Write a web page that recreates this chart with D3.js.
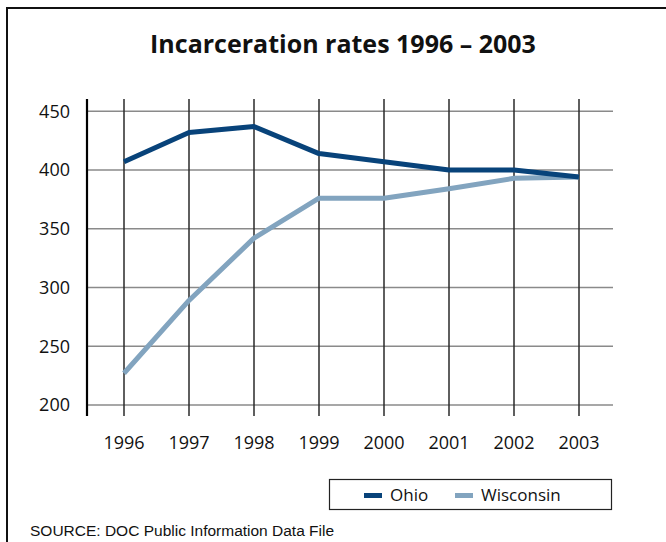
<!DOCTYPE html>
<html>
<head>
<meta charset="utf-8">
<script src="https://cdn.jsdelivr.net/npm/d3@7"></script>
<style>
  html, body { margin: 0; padding: 0; background: #fff; }
  svg { display: block; }
</style>
</head>
<body>
<script>
const years = ["1996", "1997", "1998", "1999", "2000", "2001", "2002", "2003"];
const ohio = [407, 432, 437, 414, 407, 400, 400, 394];
const wisconsin = [227, 289, 342, 376, 376, 384, 393, 394];
const yTicks = [200, 250, 300, 350, 400, 450];
const seriesNames = ["Ohio", "Wisconsin"];
const seriesColors = ["#08437a", "#82a4bf"];
const title = "Incarceration rates 1996 \u2013 2003";
const source = "SOURCE: DOC Public Information Data File";

const W = 666, H = 542;
const svg = d3.select("body").append("svg").attr("width", W).attr("height", H);

// frame (top + left)
svg.append("path").attr("d", `M7,${H} L7,8 L${W},8`).attr("fill", "none")
  .attr("stroke", "#111").attr("stroke-width", 2);

svg.append("text").attr("x", 343).attr("y", 53).attr("text-anchor", "middle")
  .attr("font-family", "Open Sans").attr("font-weight", "bold").attr("font-size", 25)
  .attr("fill", "#111").text(title);

const x = d3.scalePoint().domain(years).range([124, 579]);
const y = d3.scaleLinear().domain([200, 450]).range([405, 111.3]);
const gridRight = 613, axisX = 87, vTop = 99, vBottom = 416;

const g = svg.append("g");
// horizontal grid
g.selectAll(".hg").data(yTicks).enter().append("line")
  .attr("x1", axisX).attr("x2", gridRight)
  .attr("y1", d => y(d)).attr("y2", d => y(d))
  .attr("stroke", "#8a8a8a").attr("stroke-width", 1.5);
// vertical grid
g.selectAll(".vg").data(years).enter().append("line")
  .attr("x1", d => x(d)).attr("x2", d => x(d))
  .attr("y1", vTop).attr("y2", vBottom)
  .attr("stroke", "#2a2a2a").attr("stroke-width", 1.5);
// y axis line
g.append("line").attr("x1", axisX).attr("x2", axisX).attr("y1", vTop).attr("y2", vBottom)
  .attr("stroke", "#000").attr("stroke-width", 2.2);

// y labels
g.selectAll(".yl").data(yTicks).enter().append("text")
  .attr("x", 70).attr("y", d => y(d)).attr("dy", "0.35em").attr("text-anchor", "end")
  .attr("font-family", "Open Sans").attr("font-size", 18).attr("fill", "#111")
  .text(d => d);
// x labels
g.selectAll(".xl").data(years).enter().append("text")
  .attr("x", d => x(d)).attr("y", 449).attr("text-anchor", "middle")
  .attr("font-family", "Open Sans").attr("font-size", 18).attr("fill", "#111")
  .text(d => d);

const line = d3.line().x((d, i) => x(years[i])).y(d => y(d));
[wisconsin, ohio].forEach((s, k) => {
  const idx = k === 0 ? 1 : 0;
  g.append("path").datum(s).attr("d", line).attr("fill", "none")
    .attr("stroke", seriesColors[idx]).attr("stroke-width", 5)
    .attr("stroke-linejoin", "round");
});

// legend
const lg = svg.append("g");
lg.append("rect").attr("x", 329.5).attr("y", 479.5).attr("width", 282).attr("height", 30)
  .attr("fill", "#fff").attr("stroke", "#222").attr("stroke-width", 1.2);
const legendX = [364, 455];
seriesNames.forEach((n, i) => {
  lg.append("rect").attr("x", legendX[i]).attr("y", 493).attr("width", 18).attr("height", 5)
    .attr("fill", seriesColors[i]);
  lg.append("text").attr("x", legendX[i] + 26).attr("y", 501)
    .attr("font-family", "Open Sans").attr("font-size", 17).attr("fill", "#111").text(n);
});

svg.append("text").attr("x", 30).attr("y", 536)
  .attr("font-family", "Liberation Sans, Arial").attr("font-size", 15.5).attr("fill", "#111")
  .text(source);
</script>
</body>
</html>
